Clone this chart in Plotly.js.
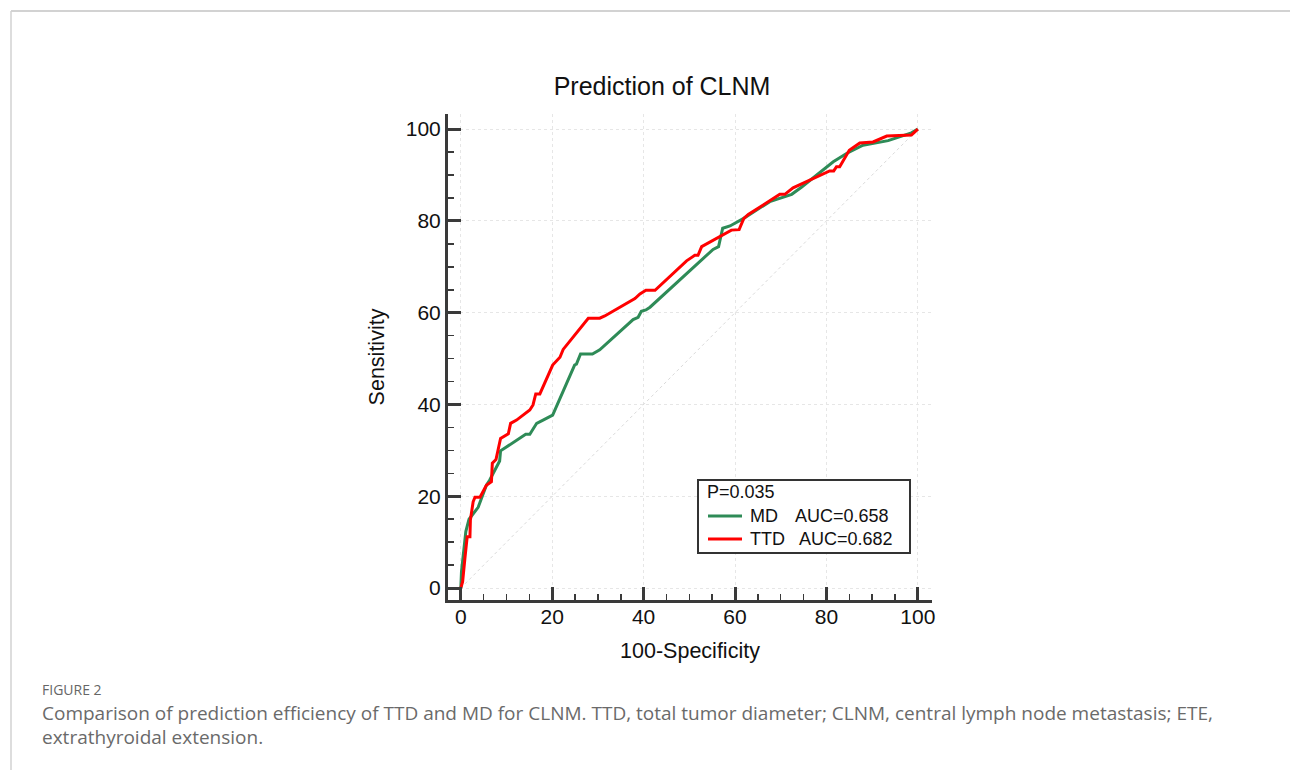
<!DOCTYPE html>
<html>
<head>
<meta charset="utf-8">
<script src="https://cdn.plot.ly/plotly-3.0.1.min.js"></script>
<style>
  html, body { margin: 0; padding: 0; background: #ffffff; }
  #chart { width: 1290px; height: 770px; }
</style>
</head>
<body>
<div id="chart"></div>
<script>
// ---- data ----
const md_x = [0, 0.15, 1.1, 1.8, 3.8, 4.9, 5.6, 6.3, 7.1, 8.5, 8.7, 11.1, 14.2, 15.1, 16.6, 18, 20.1, 24.9, 25.3, 26.2, 28.8, 30.4, 37.7, 38.8, 39.5, 40.5, 41.4, 55.2, 56.4, 57.3, 58.9, 61.8, 67.6, 72.4, 74.6, 81.5, 84.4, 88, 93.5, 98.6, 100];
const md_y = [0, 3.6, 12.3, 15, 17.6, 20.3, 22.4, 23.5, 25, 27.7, 29.9, 31.4, 33.5, 33.5, 35.9, 36.6, 37.7, 48.6, 48.8, 51, 51, 51.9, 58.5, 59, 60.3, 60.6, 61.2, 73.8, 74.4, 78.4, 78.9, 80.5, 84.2, 85.8, 87.4, 92.9, 94.7, 96.5, 97.5, 99.2, 100];

const ttd_x = [0, 0.4, 0.9, 1.4, 2.0, 2.1, 2.7, 3.1, 4.2, 5.6, 6.7, 6.9, 7.7, 8.7, 10.4, 10.9, 12.2, 15.1, 15.8, 16.4, 17.3, 20.1, 21.7, 22.4, 27.9, 30.4, 31.5, 38.1, 39.2, 40.5, 42.5, 49.4, 51.2, 51.9, 52.7, 59.2, 60.9, 61.9, 62.9, 69.8, 70.9, 72.7, 80.7, 81.6, 82.2, 82.9, 85, 87.3, 90.2, 93.2, 98.6, 99.3, 100];
const ttd_y = [0, 1.4, 6.5, 11.2, 11.2, 14.8, 18.8, 19.8, 19.8, 22.4, 23.2, 27.2, 28, 32.6, 33.6, 35.9, 36.6, 38.8, 39.9, 42.3, 42.3, 48.6, 50.3, 52, 58.8, 58.8, 59.3, 63.1, 64.1, 64.9, 64.9, 71.3, 72.5, 72.5, 74.4, 78, 78.1, 80.5, 81.4, 85.8, 85.8, 87.2, 90.9, 90.9, 91.8, 91.8, 95.4, 97, 97.2, 98.5, 98.7, 99.4, 100];

const diag_x = [0, 100];
const diag_y = [0, 100];

const series_names = ["MD", "TTD"];
const series_auc = ["AUC=0.658", "AUC=0.682"];
const series_colors = ["#2e8b57", "#ff0000"];
const p_text = "P=0.035";
const tick_vals = [0, 20, 40, 60, 80, 100];
const tick_text = ["0", "20", "40", "60", "80", "100"];

const chart_title = "Prediction of CLNM";
const x_title = "100-Specificity";
const y_title = "Sensitivity";
const fig_label = "FIGURE 2";
const caption_1 = "Comparison of prediction efficiency of TTD and MD for CLNM. TTD, total tumor diameter; CLNM, central lymph node metastasis; ETE,";
const caption_2 = "extrathyroidal extension.";

// ---- layout helpers ----
const W = 1290, H = 770;
const L = 448, R = 932, T = 114, B = 600;
const pw = R - L, ph = B - T;
const px = v => (v - L) / pw;
const py = v => (B - v) / ph;

const FONT = "Liberation Sans, Arial, sans-serif";
const CAP_FONT = "Open Sans, sans-serif";
const axisColor = "#3a3a3a";

const traces = [
  { x: diag_x, y: diag_y, mode: "lines", showlegend: false, hoverinfo: "skip",
    line: { color: "#dadada", width: 1, dash: "dot" } },
  { x: md_x, y: md_y, mode: "lines", name: series_names[0] + " " + series_auc[0], showlegend: false,
    line: { color: series_colors[0], width: 3 } },
  { x: ttd_x, y: ttd_y, mode: "lines", name: series_names[1] + " " + series_auc[1], showlegend: false,
    line: { color: series_colors[1], width: 3 } }
];

const axisCommon = {
  tickvals: tick_vals, ticktext: tick_text,
  showline: true, linecolor: axisColor, linewidth: 3,
  ticks: "inside", ticklen: 13, tickwidth: 3, tickcolor: axisColor,
  minor: { dtick: 5, tick0: 0, ticks: "inside", ticklen: 6, tickwidth: 1.5, tickcolor: axisColor, showgrid: false },
  showgrid: true, gridcolor: "#e6e6e6", gridwidth: 1, griddash: "dot",
  zeroline: false,
  tickfont: { family: FONT, size: 21, color: "#111" },
  fixedrange: true
};

// manual legend box (P value + two series entries)
const legRows = [492, 516, 539];
const shapes = [
  { type: "line", xref: "paper", yref: "paper", x0: px(11), x1: px(1290), y0: py(11), y1: py(11),
    line: { color: "#d2d2d2", width: 2 } },
  { type: "line", xref: "paper", yref: "paper", x0: px(11), x1: px(11), y0: py(11), y1: py(770),
    line: { color: "#d2d2d2", width: 1.5 } },
  { type: "rect", xref: "paper", yref: "paper", x0: px(698), x1: px(910), y0: py(480), y1: py(553),
    fillcolor: "#ffffff", line: { color: "#333333", width: 2 }, layer: "above" }
];
const annotations = [
  { text: p_text, xref: "paper", yref: "paper", x: px(705), y: py(legRows[0]), xanchor: "left", yanchor: "middle",
    showarrow: false, font: { family: FONT, size: 18, color: "#111" } }
];
series_names.forEach((nm, i) => {
  const yy = legRows[i + 1];
  shapes.push({ type: "line", xref: "paper", yref: "paper", x0: px(708), x1: px(742), y0: py(yy), y1: py(yy),
    line: { color: series_colors[i], width: 3 }, layer: "above" });
  annotations.push({ text: nm, xref: "paper", yref: "paper", x: px(748), y: py(yy), xanchor: "left", yanchor: "middle",
    showarrow: false, font: { family: FONT, size: 18, color: "#111" } });
  annotations.push({ text: series_auc[i], xref: "paper", yref: "paper", x: px(i === 0 ? 793 : 797), y: py(yy), xanchor: "left", yanchor: "middle",
    showarrow: false, font: { family: FONT, size: 18, color: "#111" } });
});
annotations.push(
  { text: fig_label, xref: "paper", yref: "paper", x: px(40), y: py(689), xanchor: "left", yanchor: "middle",
    showarrow: false, font: { family: CAP_FONT, size: 14, color: "#666" } },
  { text: caption_1, xref: "paper", yref: "paper", x: px(40), y: py(713), xanchor: "left", yanchor: "middle",
    showarrow: false, font: { family: CAP_FONT, size: 19, color: "#6a6a6a" } },
  { text: caption_2, xref: "paper", yref: "paper", x: px(40), y: py(737), xanchor: "left", yanchor: "middle",
    showarrow: false, font: { family: CAP_FONT, size: 19, color: "#6a6a6a" } }
);

const layout = {
  width: W, height: H, autosize: false,
  paper_bgcolor: "#ffffff", plot_bgcolor: "#ffffff",
  margin: { l: L, r: W - R, t: T, b: H - B, pad: 0 },
  title: {
    text: chart_title,
    font: { family: FONT, size: 25, color: "#111" },
    xref: "paper", x: px(662), xanchor: "center",
    yref: "container", y: 1 - 86 / H, yanchor: "middle"
  },
  xaxis: Object.assign({}, axisCommon, {
    range: [-2.8, 103.1],
    ticklabelstandoff: -4,
    title: { text: x_title, font: { family: FONT, size: 21.5, color: "#111" }, standoff: 16 }
  }),
  yaxis: Object.assign({}, axisCommon, {
    range: [-2.6, 103.3],
    title: { text: y_title, font: { family: FONT, size: 21.5, color: "#111" }, standoff: 16 }
  }),
  showlegend: false,
  shapes: shapes,
  annotations: annotations
};

Plotly.newPlot("chart", traces, layout, { displayModeBar: false, staticPlot: true });
</script>
</body>
</html>
